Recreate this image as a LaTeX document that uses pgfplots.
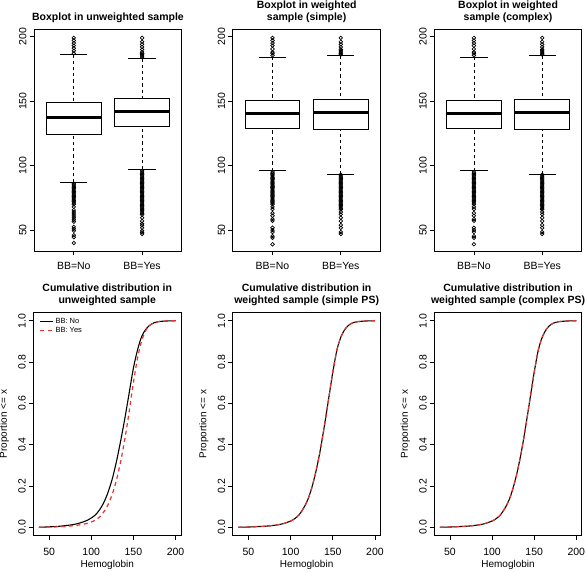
\documentclass[border=0pt]{standalone}
\usepackage{fontspec}
\setmainfont{Liberation Sans}
\usepackage{pgfplots}
\pgfplotsset{compat=1.18}
\usepgfplotslibrary{statistics}
\definecolor{rred}{RGB}{232,52,45}

\pgfplotstableread{
x y
38 0
45 0.001
50 0.002
60 0.004
70 0.008
80 0.014
90 0.025
95 0.033
100 0.045
105 0.06
110 0.085
115 0.12
120 0.17
125 0.235
130 0.32
135 0.42
140 0.53
145 0.65
150 0.77
155 0.86
160 0.925
165 0.96
170 0.98
175 0.991
180 0.996
190 0.999
200 1
}\cdfNoU
\pgfplotstableread{
x y
38 0
47 0.0005
60 0.002
70 0.004
80 0.008
90 0.014
100 0.025
105 0.035
110 0.05
115 0.075
120 0.11
125 0.16
130 0.23
135 0.32
140 0.43
145 0.56
150 0.70
155 0.82
160 0.905
165 0.955
170 0.98
175 0.991
180 0.996
190 0.999
200 1
}\cdfYesU
\pgfplotstableread{
x y
38 0
50 0.001
60 0.003
70 0.005
80 0.009
90 0.016
100 0.03
105 0.042
110 0.06
115 0.09
120 0.13
125 0.19
130 0.27
135 0.37
140 0.49
145 0.62
150 0.75
155 0.86
160 0.925
165 0.962
170 0.982
175 0.992
180 0.996
190 0.999
200 1
}\cdfW

\pgfplotsset{
  boxplot/draw/lower whisker/.code={%
    \draw[dash pattern=on 3.2pt off 3pt, line width=0.75pt]
      (boxplot box cs:\pgfplotsboxplotvalue{lower whisker},0.5) --
      (boxplot box cs:\pgfplotsboxplotvalue{lower quartile},0.5);
    \draw[line width=0.9pt]
      (boxplot whisker cs:\pgfplotsboxplotvalue{lower whisker},0) --
      (boxplot whisker cs:\pgfplotsboxplotvalue{lower whisker},1);
  },
  boxplot/draw/upper whisker/.code={%
    \draw[dash pattern=on 3.2pt off 3pt, line width=0.75pt]
      (boxplot box cs:\pgfplotsboxplotvalue{upper whisker},0.5) --
      (boxplot box cs:\pgfplotsboxplotvalue{upper quartile},0.5);
    \draw[line width=0.9pt]
      (boxplot whisker cs:\pgfplotsboxplotvalue{upper whisker},0) --
      (boxplot whisker cs:\pgfplotsboxplotvalue{upper whisker},1);
  },
  rbase/.style={
    scale only axis,
    width=147.5pt,
    axis line style={line width=0.9pt},
    every tick/.style={line width=0.75pt, black},
    tick align=outside,
    major tick length=4.5pt,
    xtick pos=bottom, ytick pos=left,
    tick label style={font=\fontsize{10.5}{12}\selectfont},
    /pgf/number format/assume math mode=true,
    yticklabel style={rotate=90, anchor=south, inner sep=0pt},
    yticklabel shift=3pt,
    xticklabel style={anchor=north, inner sep=0pt},
    title style={font=\bfseries\fontsize{10.5}{12}\selectfont, align=center, inner sep=0pt, anchor=south, at={(axis description cs:0.5,1)}, yshift=0.5pt},
  },
  boxrow/.style={
    rbase,
    height=221.5pt,
    xmin=0.42, xmax=2.58,
    ymin=33.8, ymax=205.5,
    xtick={1,2}, xticklabels={{BB=No},{BB=Yes}},
    xticklabel shift=6.5pt,
    ytick={50,100,150,200},
    boxplot/draw direction=y,
    boxplot/box extend=0.8,
    boxplot/whisker extend=0.4,
    boxplot/every box/.style={draw=black, line width=0.9pt, fill=white},
    boxplot/every median/.style={line width=3pt},
  },
  bx/.style={black, mark=o, mark size=1.8pt, mark options={line width=0.7pt, solid}},
  cdfrow/.style={
    rbase,
    height=223pt,
    xmin=31.5, xmax=206.5, ymin=-0.04, ymax=1.04,
    xtick={50,100,150,200},
    xticklabel shift=8pt,
    ytick={0,0.2,0.4,0.6,0.8,1},
    yticklabel style={/pgf/number format/.cd, fixed, fixed zerofill, precision=1},
    xlabel={Hemoglobin},
    ylabel={Proportion <= x},
    label style={font=\fontsize{10.5}{12}\selectfont},
    every axis x label/.style={at={(axis description cs:0.5,0)}, anchor=base, yshift=-32pt},
    every axis y label/.style={at={(axis description cs:-0.18,0.5)}, rotate=90, anchor=base},
  },
  blk/.style={black, line width=1.1pt, smooth, tension=0.5, no marks},
  rdd/.style={rred, line width=1.2pt, dash pattern=on 4pt off 3.5pt, smooth, tension=0.5, no marks},
}

\begin{document}
\begin{tikzpicture}
\useasboundingbox (0,0) rectangle (586pt,571pt);

% ---------- Top row: boxplots ----------
\begin{axis}[boxrow, at={(34.2pt,320pt)}, anchor=south west,
  title={Boxplot in unweighted sample}]
\addplot[bx, boxplot prepared={draw position=1, lower whisker=87, lower quartile=124, median=137, upper quartile=149, upper whisker=186}]
 table[row sep=\\, y index=0] {v\\ 40\\ 44.5\\ 46\\ 49.5\\ 51\\ 52.5\\ 56.5\\ 58\\ 59.5\\ 61\\ 62.5\\ 64\\ 65.5\\ 68\\ 70\\ 71\\ 72\\ 73\\ 74\\ 75\\ 76\\ 77\\ 78\\ 79\\ 80\\ 81\\ 82\\ 83\\ 84\\ 85\\ 86\\ 187\\ 189\\ 191\\ 193\\ 195\\ 197\\ 199\\};
\addplot[bx, boxplot prepared={draw position=2, lower whisker=97, lower quartile=130, median=142, upper quartile=152, upper whisker=183}]
 table[row sep=\\, y index=0] {v\\ 47\\ 48.2\\ 49.5\\ 51.8\\ 53.7\\ 55\\ 57\\ 59.6\\ 62\\ 63\\ 64\\ 65\\ 66\\ 67\\ 68\\ 69\\ 70\\ 71\\ 72\\ 73\\ 74\\ 75\\ 76\\ 77\\ 78\\ 79\\ 80\\ 81\\ 82\\ 83\\ 84\\ 85\\ 86\\ 87\\ 88\\ 89\\ 90\\ 91\\ 92\\ 93\\ 94\\ 95\\ 96\\ 184\\ 185\\ 186\\ 187\\ 188\\ 190\\ 192\\ 194\\ 196\\ 199\\};
\end{axis}

\begin{axis}[boxrow, at={(232.9pt,320pt)}, anchor=south west,
  title={Boxplot in weighted\\sample (simple)}]
\addplot[bx, boxplot prepared={draw position=1, lower whisker=95.9, lower quartile=129, median=140, upper quartile=150.8, upper whisker=184}]
 table[row sep=\\, y index=0] {v\\ 39\\ 44\\ 45.3\\ 48.5\\ 50\\ 51.8\\ 57.2\\ 58.5\\ 61.1\\ 63.2\\ 66.3\\ 68\\ 70\\ 71\\ 72\\ 73\\ 74\\ 75\\ 76\\ 77\\ 78\\ 79\\ 80\\ 81\\ 82\\ 83\\ 84\\ 85\\ 86\\ 87\\ 88\\ 89\\ 90\\ 91\\ 92\\ 93\\ 94\\ 95\\ 185.5\\ 187\\ 188\\ 190.4\\ 193\\ 195\\ 197\\ 199\\};
\addplot[bx, boxplot prepared={draw position=2, lower whisker=93.5, lower quartile=128, median=141.2, upper quartile=151, upper whisker=185.1}]
 table[row sep=\\, y index=0] {v\\ 47\\ 48.5\\ 51.8\\ 53.9\\ 57\\ 59.6\\ 62.2\\ 64\\ 66\\ 67\\ 68\\ 69\\ 70\\ 71\\ 72\\ 73\\ 74\\ 75\\ 76\\ 77\\ 78\\ 79\\ 80\\ 81\\ 82\\ 83\\ 84\\ 85\\ 86\\ 87\\ 88\\ 89\\ 90\\ 91\\ 92\\ 93\\ 186\\ 187\\ 188\\ 189\\ 190\\ 192\\ 194\\ 196\\ 199\\};
\end{axis}

\begin{axis}[boxrow, at={(434.3pt,320pt)}, anchor=south west,
  title={Boxplot in weighted\\sample (complex)}]
\addplot[bx, boxplot prepared={draw position=1, lower whisker=95.9, lower quartile=129, median=140, upper quartile=150.8, upper whisker=184}]
 table[row sep=\\, y index=0] {v\\ 39\\ 44\\ 45.3\\ 48.5\\ 50\\ 51.8\\ 57.2\\ 58.5\\ 61.1\\ 63.2\\ 66.3\\ 68\\ 70\\ 71\\ 72\\ 73\\ 74\\ 75\\ 76\\ 77\\ 78\\ 79\\ 80\\ 81\\ 82\\ 83\\ 84\\ 85\\ 86\\ 87\\ 88\\ 89\\ 90\\ 91\\ 92\\ 93\\ 94\\ 95\\ 185.5\\ 187\\ 188\\ 190.4\\ 193\\ 195\\ 197\\ 199\\};
\addplot[bx, boxplot prepared={draw position=2, lower whisker=93.5, lower quartile=128, median=141.2, upper quartile=151, upper whisker=185.1}]
 table[row sep=\\, y index=0] {v\\ 47\\ 48.5\\ 51.8\\ 53.9\\ 57\\ 59.6\\ 62.2\\ 64\\ 66\\ 67\\ 68\\ 69\\ 70\\ 71\\ 72\\ 73\\ 74\\ 75\\ 76\\ 77\\ 78\\ 79\\ 80\\ 81\\ 82\\ 83\\ 84\\ 85\\ 86\\ 87\\ 88\\ 89\\ 90\\ 91\\ 92\\ 93\\ 186\\ 187\\ 188\\ 189\\ 190\\ 192\\ 194\\ 196\\ 199\\};
\end{axis}

% ---------- Bottom row: CDFs ----------
\begin{axis}[cdfrow, at={(33.5pt,35.5pt)}, anchor=south west,
  title={Cumulative distribution in\\unweighted sample},
  legend style={at={(axis description cs:0.035,0.99)}, anchor=north west, draw=none, fill=none,
    font=\fontsize{7.5}{8.5}\selectfont, row sep=-1.5pt, inner sep=1pt},
  legend image code/.code={\draw[#1, smooth=false] (0pt,0pt) -- (12.5pt,0pt);},
  legend cell align=left]
\addplot[blk] table[x=x, y=y] {\cdfNoU};
\addlegendentry{BB: No}
\addplot[rdd] table[x=x, y=y] {\cdfYesU};
\addlegendentry{BB: Yes}
\end{axis}

\begin{axis}[cdfrow, at={(232.9pt,35.5pt)}, anchor=south west,
  title={Cumulative distribution in\\weighted sample (simple PS)}]
\addplot[blk] table[x=x, y=y] {\cdfW};
\addplot[rdd] table[x=x, y=y] {\cdfW};
\end{axis}

\begin{axis}[cdfrow, at={(434.3pt,35.5pt)}, anchor=south west,
  title={Cumulative distribution in\\weighted sample (complex PS)}]
\addplot[blk] table[x=x, y=y] {\cdfW};
\addplot[rdd] table[x=x, y=y] {\cdfW};
\end{axis}
\end{tikzpicture}
\end{document}
